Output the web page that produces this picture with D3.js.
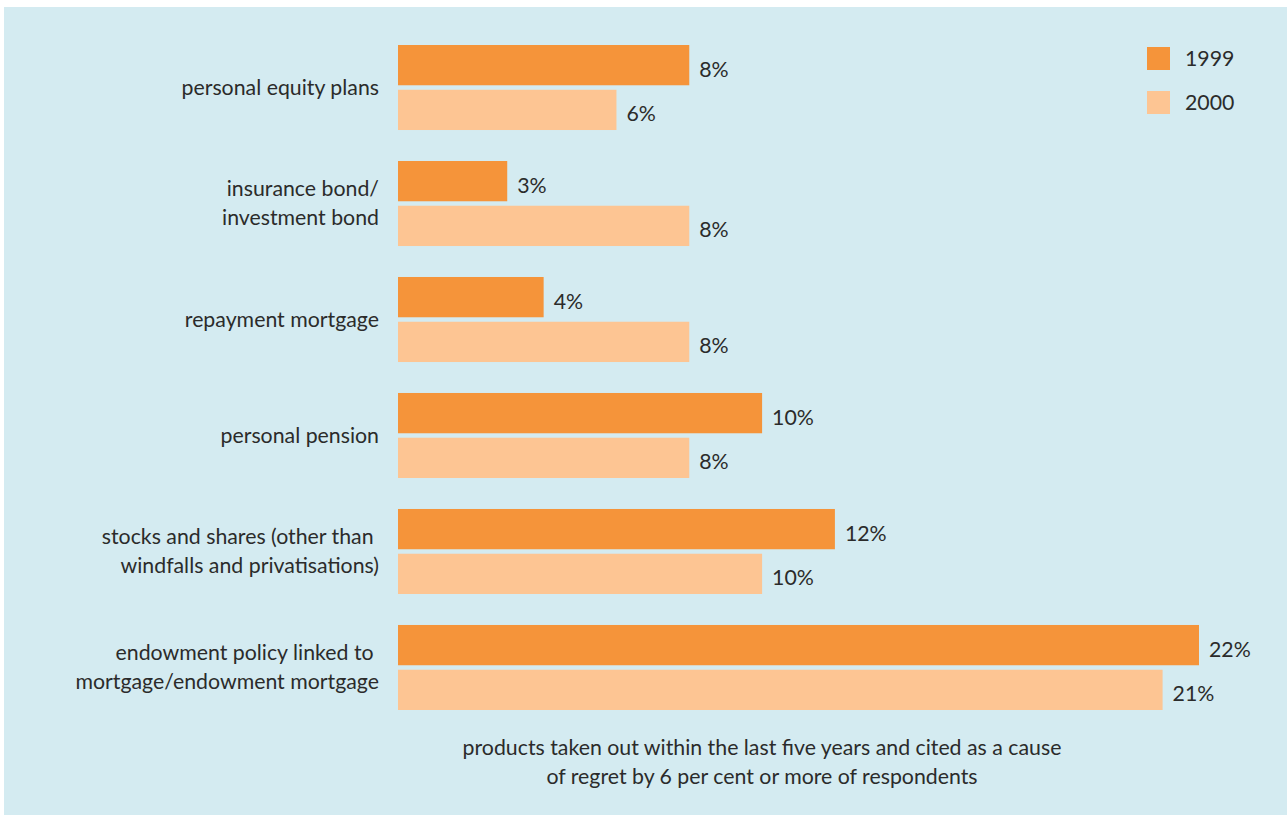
<!DOCTYPE html>
<html><head><meta charset="utf-8">
<script src="https://cdn.jsdelivr.net/npm/d3@7"></script>
<style>html,body{margin:0;padding:0;background:#fff;}svg{display:block;}</style>
</head><body>
<script>
const categories = [
  ["personal equity plans"],
  ["insurance bond/", "investment bond"],
  ["repayment mortgage"],
  ["personal pension"],
  ["stocks and shares (other than ", "windfalls and privatisations)"],
  ["endowment policy linked to ", "mortgage/endowment mortgage"]
];
const values1999 = [8, 3, 4, 10, 12, 22];
const values2000 = [6, 8, 8, 8, 10, 21];
const seriesNames = ["1999", "2000"];
const colors = ["#F5943A", "#FDC593"];
const caption = ["products taken out within the last five years and cited as a cause",
                 "of regret by 6 per cent or more of respondents"];

const W = 1287, H = 815;
const FONT = "Lato, 'Open Sans', sans-serif";
const FS = 21.3;
const svg = d3.select("body").append("svg").attr("width", W).attr("height", H);
svg.append("rect").attr("x", 4).attr("y", 7).attr("width", W - 4).attr("height", H - 7).attr("fill", "#D4EBF1");

const x = d3.scaleLinear().domain([0, 22]).range([398, 1199]);
const ids = d3.range(categories.length);
const y = d3.scaleBand().domain(ids).range([45, 710]).paddingInner(0.267).paddingOuter(0);
const sub = d3.scaleBand().domain([0, 1]).range([0, y.bandwidth()]).paddingInner(0.1);

const series = [values1999, values2000];
const g = svg.append("g");
series.forEach((vals, s) => {
  g.selectAll(".bar" + s).data(vals).enter().append("rect")
    .attr("x", x(0)).attr("y", (d, i) => y(i) + sub(s))
    .attr("width", d => x(d) - x(0)).attr("height", sub.bandwidth())
    .attr("fill", colors[s]);
  g.selectAll(".lab" + s).data(vals).enter().append("text")
    .attr("x", d => x(d) + 10).attr("y", (d, i) => y(i) + sub(s) + sub.bandwidth() / 2 + 4)
    .attr("dy", "0.35em").attr("font-family", FONT).attr("font-size", FS).attr("fill", "#2b2b2b")
    .text(d => d + "%");
});

// category labels
categories.forEach((lines, i) => {
  const cy = y(i) + y.bandwidth() / 2;
  const t = svg.append("text").attr("text-anchor", "end").attr("font-family", FONT)
    .attr("font-size", FS).attr("fill", "#2b2b2b").style("white-space", "pre");
  const n = lines.length;
  lines.forEach((ln, k) => {
    t.append("tspan").attr("x", 379).attr("y", cy + (k - (n - 1) / 2) * 29).attr("dy", "0.35em").text(ln);
  });
});

// legend
seriesNames.forEach((nm, s) => {
  svg.append("rect").attr("x", 1147).attr("y", 47 + s * 44).attr("width", 23).attr("height", 23).attr("fill", colors[s]);
  svg.append("text").attr("x", 1185).attr("y", 47 + s * 44 + 12).attr("dy", "0.35em")
    .attr("font-family", FONT).attr("font-size", FS).attr("fill", "#2b2b2b").text(nm);
});

// caption
caption.forEach((c, k) => {
  svg.append("text").attr("x", 762).attr("y", 748 + k * 29).attr("dy", "0.35em").attr("text-anchor", "middle")
    .attr("font-family", FONT).attr("font-size", FS).attr("fill", "#2b2b2b").text(c);
});
</script>
</body></html>
